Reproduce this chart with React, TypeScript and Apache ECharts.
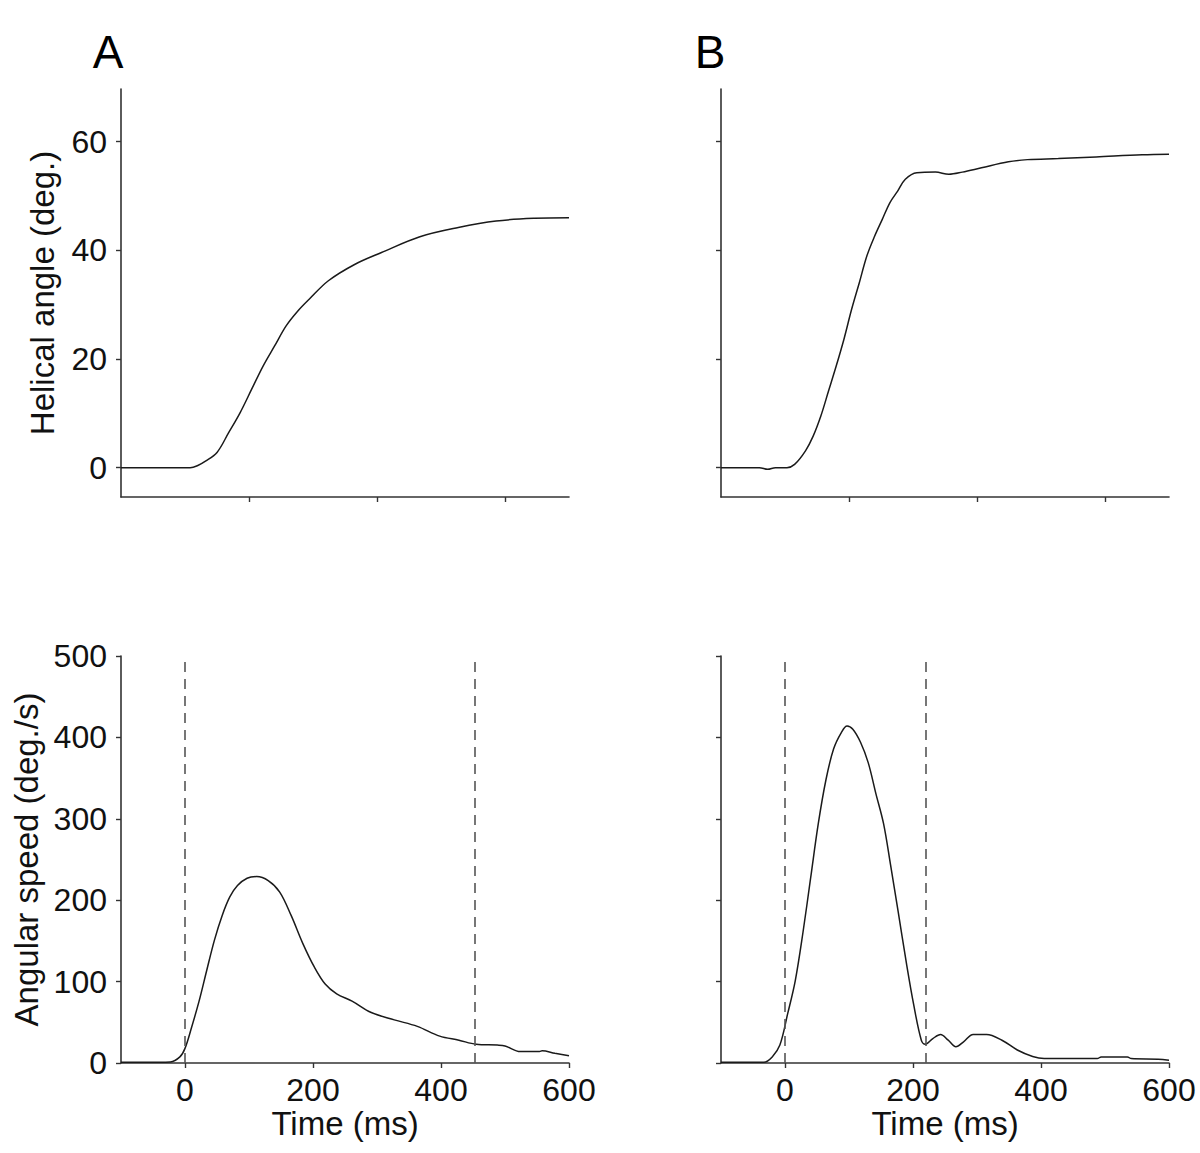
import React, { useEffect, useRef } from "react";
import * as echarts from "echarts";

// ---- Data ----
const angleTimeA = [-100, 8, 20, 32, 50, 68, 86, 104, 122, 140, 158, 176, 194, 224, 265, 307, 367, 427, 486, 546, 600];
const angleA = [0, 0, 0.4, 1.2, 2.8, 6.4, 10.1, 14.4, 18.7, 22.4, 26.1, 28.8, 31, 34.4, 37.4, 39.6, 42.5, 44.2, 45.4, 45.9, 46];

const angleTimeB = [-100, -40, -27, -15, 3, 15, 32, 44, 56, 68, 80, 92, 104, 116, 128, 140, 152, 164, 176, 188, 206, 235, 256, 277, 307, 349, 379, 427, 486, 558, 600];
const angleB = [0, 0, -0.3, 0, 0, 0.6, 3.1, 5.8, 9.5, 14.1, 18.7, 23.6, 29.1, 34, 39, 42.6, 45.7, 48.8, 50.9, 53.1, 54.3, 54.4, 54, 54.4, 55.2, 56.3, 56.7, 56.9, 57.2, 57.6, 57.7];

const speedTimeA = [-100, -40, -23, -8, 0, 10, 22, 34, 46, 58, 70, 82, 97, 112, 130, 148, 166, 184, 202, 219, 237, 261, 291, 327, 363, 398, 428, 455, 488, 500, 524, 554, 558, 578, 600];
const speedA = [1, 1, 1.3, 7.5, 18, 43, 76, 114, 151, 181, 204, 218, 227, 229, 224, 210, 181, 147, 118, 97, 85, 76, 62, 53, 45, 33, 28, 23, 22, 21, 14, 14, 15, 12, 9];

const speedTimeB = [-100, -40, -33, -20, -8, 4, 16, 28, 40, 52, 64, 76, 88, 97, 106, 118, 130, 142, 154, 165, 177, 189, 201, 213, 219, 231, 243, 255, 267, 279, 294, 315, 339, 363, 387, 405, 488, 494, 535, 541, 583, 600];
const speedB = [1, 1, 1, 7.5, 22, 60, 101, 160, 227, 294, 348, 386, 406, 414, 410, 394, 369, 331, 294, 243, 185, 126, 72, 28, 23, 30, 35, 28, 20, 26, 35, 35, 28, 16, 8, 5.4, 5.4, 7.5, 7.5, 5.4, 4.6, 3.3];

const dashA = [0, 453];
const dashB = [0, 220];

const timeTicksTop = [100, 300, 500];
const timeTicksBottom = [0, 200, 400, 600];
const angleTicks = [0, 20, 40, 60];
const speedTicks = [0, 100, 200, 300, 400, 500];

const panelLabels = ["A", "B"];

const FONT = "Liberation Sans, Arial, Helvetica, sans-serif";
const AXIS_COLOR = "#333";

function zip(ts: number[], vs: number[]) {
  return ts.map((t, i) => [t, vs[i]]);
}

export default function App() {
  const ref = useRef<HTMLDivElement>(null);

  useEffect(() => {
    if (!ref.current) return;
    const chart = echarts.init(ref.current, undefined, { renderer: "svg" });

    const grids = [
      { left: 121, top: 89, width: 448, height: 408 },
      { left: 721, top: 89, width: 448, height: 408 },
      { left: 121, top: 656, width: 448, height: 407 },
      { left: 721, top: 656, width: 448, height: 407 },
    ];

    const axisLine = { show: true, onZero: false, lineStyle: { color: AXIS_COLOR, width: 1.6 } };
    const tickStyle = { lineStyle: { color: AXIS_COLOR, width: 1.4 } };
    const labelStyle = { color: "#111", fontSize: 32, fontFamily: FONT };
    const nameStyle = { color: "#111", fontSize: 33, fontFamily: FONT };

    const xAxes = [0, 1, 2, 3].map((i) => {
      const bottom = i >= 2;
      return {
        type: "value",
        gridIndex: i,
        min: -100,
        max: 600,
        axisLine,
        splitLine: { show: false },
        axisTick: {
          show: true,
          length: 5,
          customValues: bottom ? timeTicksBottom : timeTicksTop,
          ...tickStyle,
        },
        axisLabel: bottom
          ? { show: true, customValues: timeTicksBottom, margin: 11, ...labelStyle }
          : { show: false },
        name: bottom ? "Time (ms)" : "",
        nameLocation: "middle",
        nameGap: 44,
        nameTextStyle: { ...nameStyle },
      };
    });

    const yAxes = [0, 1, 2, 3].map((i) => {
      const bottom = i >= 2;
      const left = i % 2 === 0;
      const ticks = bottom ? speedTicks : angleTicks;
      return {
        type: "value",
        gridIndex: i,
        min: bottom ? 0 : -5.4,
        max: bottom ? 500 : 69.7,
        axisLine,
        splitLine: { show: false },
        axisTick: { show: true, length: 5, customValues: ticks, ...tickStyle },
        axisLabel: left
          ? { show: true, customValues: ticks, margin: 14, ...labelStyle }
          : { show: false },
        name: left ? (bottom ? "Angular speed (deg./s)" : "Helical angle (deg.)") : "",
        nameLocation: "middle",
        nameGap: bottom ? 78 : 62,
        nameTextStyle: { ...nameStyle },
      };
    });

    const lineStyle = { color: "#1a1a1a", width: 1.5 };
    const mkDash = (vals: number[]) => ({
      silent: true,
      symbol: ["none", "none"],
      label: { show: false },
      lineStyle: { color: "#555", width: 1.6, type: [10, 7] },
      data: vals.map((v) => ({ xAxis: v })),
    });

    const series = [
      { data: zip(angleTimeA, angleA), idx: 0 },
      { data: zip(angleTimeB, angleB), idx: 1 },
      { data: zip(speedTimeA, speedA), idx: 2, dash: dashA },
      { data: zip(speedTimeB, speedB), idx: 3, dash: dashB },
    ].map((s) => ({
      type: "line",
      xAxisIndex: s.idx,
      yAxisIndex: s.idx,
      data: s.data,
      smooth: 0.35,
      showSymbol: false,
      symbol: "none",
      lineStyle,
      ...(s.dash ? { markLine: mkDash(s.dash) } : {}),
    }));

    chart.setOption({
      animation: false,
      backgroundColor: "#fff",
      grid: grids,
      xAxis: xAxes,
      yAxis: yAxes,
      series,
      graphic: [
        {
          type: "text",
          x: 108,
          y: 52,
          style: {
            text: panelLabels[0],
            fontSize: 46,
            fontFamily: FONT,
            fill: "#000",
            textAlign: "center",
            textVerticalAlign: "middle",
          },
        },
        {
          type: "text",
          x: 710,
          y: 52,
          style: {
            text: panelLabels[1],
            fontSize: 46,
            fontFamily: FONT,
            fill: "#000",
            textAlign: "center",
            textVerticalAlign: "middle",
          },
        },
      ],
    });

    return () => chart.dispose();
  }, []);

  return (
    <div
      ref={ref}
      style={{ position: "absolute", left: 0, top: 0, width: 1200, height: 1153, background: "#fff" }}
    />
  );
}
